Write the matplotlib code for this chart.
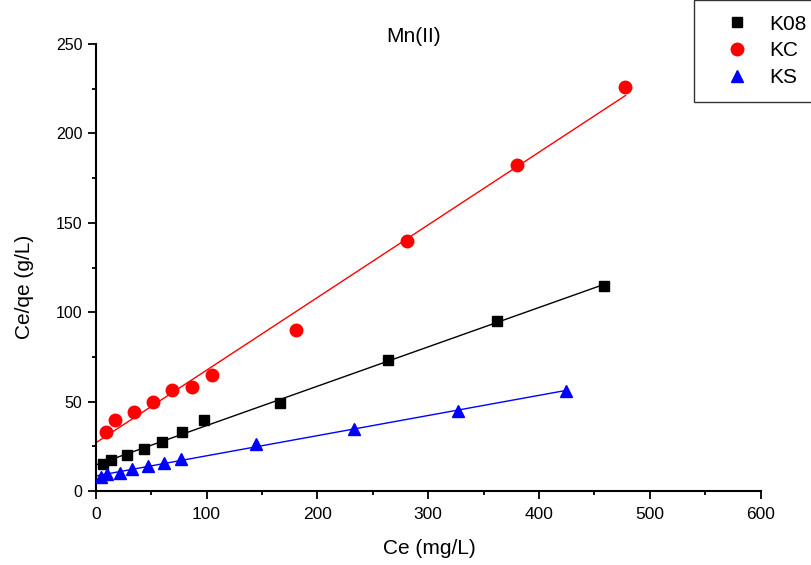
import matplotlib.pyplot as plt
import numpy as np

plt.rcParams['font.family'] = ['Liberation Sans', 'DejaVu Sans']

# Ce (mg/L) and Ce/qe (g/L)
k08_x = [6.6, 14.1, 28.3, 43.3, 59.8, 77.9, 97.5, 166.7, 264, 362, 459]
k08_y = [15.1, 17.3, 20.1, 23.3, 27.6, 32.8, 39.7, 49.0, 73.2, 95.0, 114.8]
kc_x = [9.0, 17.7, 34.3, 51.7, 69.2, 87.0, 105.3, 180.5, 280.7, 380, 478]
kc_y = [32.8, 39.7, 44.4, 50.0, 56.5, 58.0, 64.9, 90.0, 139.8, 182.3, 226.0]
ks_x = [4.5, 10.5, 21.7, 33.0, 47.0, 61.4, 77.3, 145, 233, 327, 424]
ks_y = [8.0, 9.3, 10.2, 12.1, 14.0, 15.5, 17.7, 26.3, 34.7, 44.7, 56.0]

fig = plt.figure(figsize=(8.11, 5.65), dpi=100)
ax = fig.add_axes([0.118, 0.131, 0.820, 0.791])

series = [
    (k08_x, k08_y, 'K08', 'black', 's', 7.5),
    (kc_x, kc_y, 'KC', 'red', 'o', 9),
    (ks_x, ks_y, 'KS', 'blue', '^', 9),
]
handles = []
for xs, ys, name, col, mk, ms in series:
    xs = np.array(xs)
    ys = np.array(ys)
    m, b = np.polyfit(xs, ys, 1)
    xx = np.array([0, xs.max()])
    ax.plot(xx, m * xx + b, color=col, lw=1, zorder=2)
    h, = ax.plot(xs, ys, linestyle='none', marker=mk, color=col,
                 markersize=ms, zorder=3, label=name)
    handles.append(h)

ax.set_xlim(0, 600)
ax.set_ylim(0, 250)
ax.set_xticks(np.arange(0, 601, 100))
ax.set_xticks(np.arange(0, 601, 50), minor=True)
ax.set_yticks(np.arange(0, 251, 50))
ax.set_yticks(np.arange(0, 251, 25), minor=True)
for s in ['top', 'right']:
    ax.spines[s].set_visible(False)
for s in ['left', 'bottom']:
    ax.spines[s].set_linewidth(1.5)
ax.tick_params(which='major', direction='out', length=5.5, width=1.3)
ax.tick_params(which='minor', direction='out', length=3, width=1.3)
ax.tick_params(axis='x', which='major', labelsize=12.5, pad=6)
ax.tick_params(axis='y', which='major', labelsize=11.5, pad=4)

ax.set_xlabel('Ce (mg/L)', fontsize=15)
ax.xaxis.set_label_coords(0.502, -0.108)
ax.set_ylabel('Ce/qe (g/L)', fontsize=15, va='center')
ax.yaxis.set_label_coords(-0.107, 0.456)

fig.text(414 / 811, 1 - 37 / 565, 'Mn(II)', ha='center', va='center', fontsize=15)

leg = fig.legend(handles=handles, loc='upper left',
                 bbox_to_anchor=(694 / 811, 1.0), borderaxespad=0,
                 fontsize=15, frameon=True, fancybox=False,
                 edgecolor='black', borderpad=0.7, handlelength=2.7,
                 handletextpad=0.2, labelspacing=0.37, markerscale=1.0)
leg.get_frame().set_linewidth(1)

fig.savefig('out.png', dpi=100)
